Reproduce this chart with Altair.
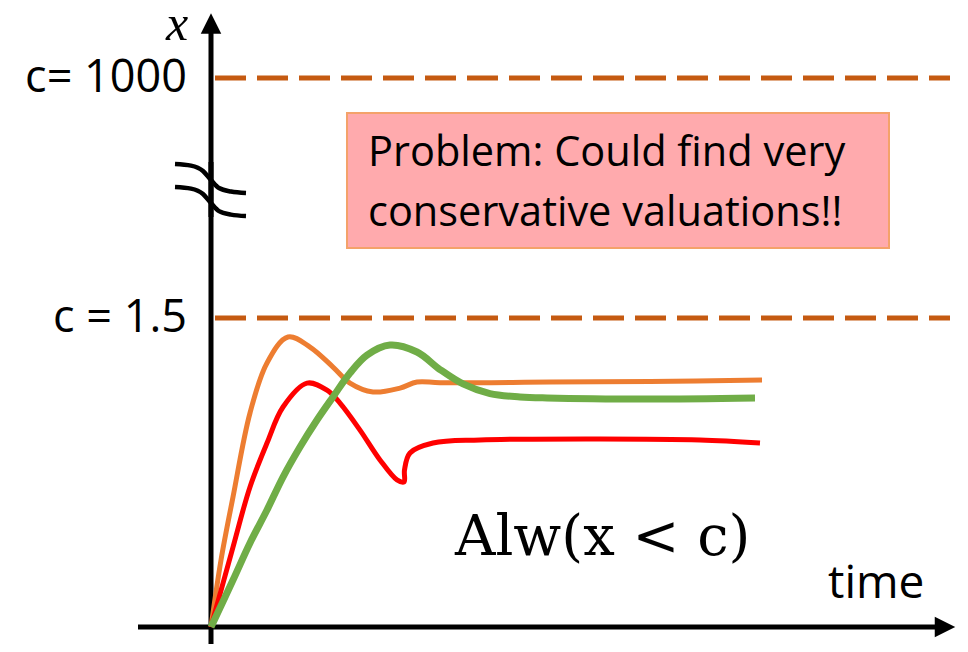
import altair as alt
import pandas as pd

# ---- coordinate system: time units (t) and value units (v); c = 1.5 sits at v = 1.5
T_DOMAIN = [-2.03, 7.49]
V_DOMAIN = [-0.0825, 3.005]
C_LOW = 1.5
C_HIGH_POS = 2.665          # position of c = 1000 on the broken axis

# ---- signal curves (time, value)
ORANGE_T = [0, 0.10, 0.22, 0.39, 0.56, 0.77, 0.99, 1.22, 1.39, 1.62, 1.89, 2.06, 2.29, 3.39, 4.39, 5.51]
ORANGE_V = [0, 0.325, 0.631, 1.039, 1.282, 1.408, 1.359, 1.262, 1.184, 1.141, 1.160, 1.189, 1.186, 1.189, 1.192, 1.199]

RED_T = [0, 0.22, 0.39, 0.56, 0.72, 0.96, 1.16, 1.29, 1.49, 1.69, 1.86, 1.93, 1.935, 1.99, 2.22, 2.69, 3.89, 4.89, 5.49]
RED_V = [0, 0.388, 0.680, 0.893, 1.068, 1.184, 1.150, 1.087, 0.956, 0.811, 0.714, 0.704, 0.762, 0.845, 0.893, 0.908, 0.913, 0.908, 0.893]

GREEN_T = [0, 0.22, 0.39, 0.56, 0.72, 0.89, 1.06, 1.22, 1.39, 1.56, 1.79, 2.06, 2.29, 2.52, 2.79, 3.09, 3.36, 4.36, 5.44]
GREEN_V = [0, 0.228, 0.408, 0.568, 0.728, 0.874, 1.005, 1.117, 1.233, 1.320, 1.369, 1.335, 1.250, 1.180, 1.133, 1.117, 1.112, 1.107, 1.112]

# ---- axis geometry (in the same units)
X_AXIS_T = [-0.73, 7.30]
Y_AXIS_LOW_V = [-0.125, 2.257]
Y_AXIS_HIGH_V = [1.990, 2.90]
X_ARROW = (7.34, 0.0)
Y_ARROW = (0.0, 2.93)
DASH_T = [0.04, 7.39]

# axis-break squiggles
BREAK_T = [-0.36, -0.20, -0.08, 0.0, 0.08, 0.20, 0.35]
BREAK1_V = [2.248, 2.240, 2.214, 2.170, 2.131, 2.114, 2.107]
BREAK2_V = [2.136, 2.128, 2.102, 2.058, 2.019, 2.002, 1.995]

# annotation box
BOX_T = [1.36, 6.78]
BOX_V = [1.840, 2.495]
BOX_LINES = ["Problem: Could find very", "conservative valuations!!"]
BOX_LINE_V = [2.240, 1.946]
BOX_TEXT_T = 1.57

LABELS = ["c= 1000", "c = 1.5"]
LABEL_T = -0.24
LABEL_V = [C_HIGH_POS, C_LOW]

xs = alt.Scale(domain=T_DOMAIN, nice=False, zero=False)
ys = alt.Scale(domain=V_DOMAIN, nice=False, zero=False)


def X(f="t"):
    return alt.X(f"{f}:Q", scale=xs, axis=None)


def Y(f="v"):
    return alt.Y(f"{f}:Q", scale=ys, axis=None)


layers = []

# axes
axes_df = pd.DataFrame({
    "t": [X_AXIS_T[0], 0, 0],
    "t2": [X_AXIS_T[1], 0, 0],
    "v": [0, Y_AXIS_LOW_V[0], Y_AXIS_HIGH_V[0]],
    "v2": [0, Y_AXIS_LOW_V[1], Y_AXIS_HIGH_V[1]],
})
layers.append(alt.Chart(axes_df).mark_rule(color="black", strokeWidth=5).encode(
    x=X("t"), x2="t2:Q", y=Y("v"), y2="v2:Q"))

arrows_df = pd.DataFrame({"t": [X_ARROW[0]], "v": [X_ARROW[1]]})
layers.append(alt.Chart(arrows_df).mark_point(
    shape="M -1 -1 L 1 0 L -1 1 Z", filled=True, color="black", opacity=1, size=420, strokeWidth=0
).encode(x=X(), y=Y()))
arrows2_df = pd.DataFrame({"t": [Y_ARROW[0]], "v": [Y_ARROW[1]]})
layers.append(alt.Chart(arrows2_df).mark_point(
    shape="M -1 1 L 0 -1 L 1 1 Z", filled=True, color="black", opacity=1, size=420, strokeWidth=0
).encode(x=X(), y=Y()))

# break squiggles
brk = pd.DataFrame({
    "t": BREAK_T + BREAK_T,
    "v": BREAK1_V + BREAK2_V,
    "g": ["a"] * len(BREAK_T) + ["b"] * len(BREAK_T),
})
layers.append(alt.Chart(brk).mark_line(color="black", strokeWidth=4.5, interpolate="monotone").encode(
    x=X(), y=Y(), detail="g:N"))

# dashed threshold lines
dash_df = pd.DataFrame({"t": [DASH_T[0]] * 2, "t2": [DASH_T[1]] * 2, "v": [C_HIGH_POS, C_LOW]})
layers.append(alt.Chart(dash_df).mark_rule(color="#C55A11", strokeWidth=5, strokeDash=[31, 11]).encode(
    x=X("t"), x2="t2:Q", y=Y("v")))

# threshold labels
lab_df = pd.DataFrame({"t": [LABEL_T] * 2, "v": LABEL_V, "txt": LABELS})
layers.append(alt.Chart(lab_df).mark_text(
    align="right", baseline="middle", font="Open Sans", fontSize=45, color="black"
).encode(x=X(), y=Y(), text="txt:N"))

# annotation box
box_df = pd.DataFrame({"t": [BOX_T[0]], "t2": [BOX_T[1]], "v": [BOX_V[0]], "v2": [BOX_V[1]]})
layers.append(alt.Chart(box_df).mark_rect(fill="#FFAAAD", stroke="#F4A26A", strokeWidth=2).encode(
    x=X("t"), x2="t2:Q", y=Y("v"), y2="v2:Q"))
box_txt = pd.DataFrame({"t": [BOX_TEXT_T] * 2, "v": BOX_LINE_V, "txt": BOX_LINES})
layers.append(alt.Chart(box_txt).mark_text(
    align="left", baseline="alphabetic", font="Open Sans", fontSize=41.5, color="black"
).encode(x=X(), y=Y(), text="txt:N"))

# curves
for ts, vs, col, w in [(ORANGE_T, ORANGE_V, "#ED7D31", 5),
                       (RED_T, RED_V, "#FF0000", 5),
                       (GREEN_T, GREEN_V, "#70AD47", 7)]:
    df = pd.DataFrame({"t": ts, "v": vs, "i": list(range(len(ts)))})
    layers.append(alt.Chart(df).mark_line(color=col, strokeWidth=w, interpolate="catmull-rom",
                                          strokeCap="butt").encode(
        x=X(), y=Y(), order="i:Q"))

# other text
misc = pd.DataFrame({
    "t": [2.44, 6.17],
    "v": [0.350, 0.141],
    "txt": ["Alw(x < c)", "time"],
})
layers.append(alt.Chart(misc.iloc[[0]]).mark_text(
    align="left", baseline="alphabetic", font="DejaVu Serif", fontSize=56, color="black"
).encode(x=X(), y=Y(), text="txt:N"))
layers.append(alt.Chart(misc.iloc[[1]]).mark_text(
    align="left", baseline="alphabetic", font="Open Sans", fontSize=46, color="black"
).encode(x=X(), y=Y(), text="txt:N"))
xl = pd.DataFrame({"t": [-0.34], "v": [2.850], "txt": ["x"]})
layers.append(alt.Chart(xl).mark_text(
    align="center", baseline="alphabetic", font="Liberation Serif", fontStyle="italic",
    fontSize=50, color="black"
).encode(x=X(), y=Y(), text="txt:N"))

chart = alt.layer(*layers).properties(
    width=952, height=636, padding=0, background="white",
    autosize=alt.AutoSizeParams(type="none")
).configure_view(stroke=None)

chart.save("out.html", embed_options={"renderer": "svg", "actions": False})
